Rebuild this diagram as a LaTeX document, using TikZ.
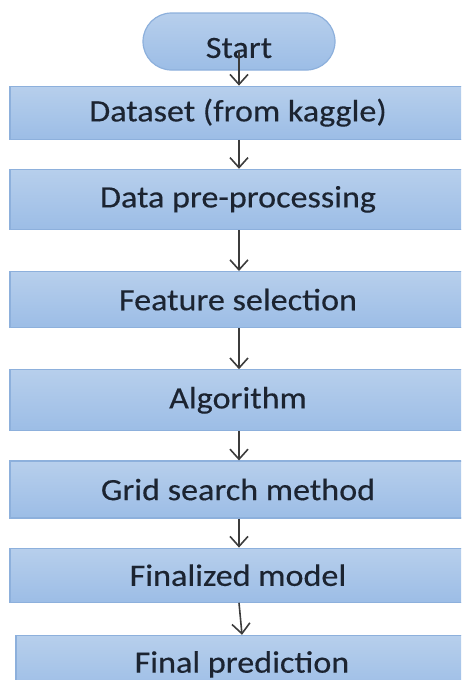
\documentclass[tikz,border=0pt]{standalone}
\usepackage{fontspec}
\setmainfont[FakeStretch=1.1,FakeBold=0.3]{Carlito}
\usepackage{tikz}
\usetikzlibrary{positioning,arrows.meta,shapes.misc}
\definecolor{boxtop}{HTML}{B7CFEC}
\definecolor{boxbot}{HTML}{9CBDE6}
\definecolor{boxline}{HTML}{8DB0DC}
\definecolor{ink}{HTML}{1C2431}
\definecolor{arrowgray}{HTML}{3C3C3C}

\begin{document}
\begin{tikzpicture}[font=\fontsize{15.5}{18}\selectfont,
  stepbox/.style={rectangle,draw=boxline,line width=0.6pt,top color=boxtop,bottom color=boxbot,text=ink,minimum width=240pt,inner sep=0pt,xshift=5.5pt,execute at begin node={\hspace*{-12pt}}},
  pill/.style={rounded rectangle,draw=boxline,line width=0.6pt,top color=boxtop,bottom color=boxbot,text=ink,minimum width=96pt,minimum height=28.5pt,inner sep=0pt},
  flow/.style={-{Straight Barb[length=5pt,width=9pt]},draw=arrowgray,line width=0.8pt}]
  \useasboundingbox (0,0) rectangle (230.5pt,-340pt);
  \clip (0,0) rectangle (230.5pt,-340pt);
  \node[pill] (start) at (119.5pt,-20.75pt) {\raisebox{-3.25pt}[\height][\depth]{Start}};
  \node[stepbox,minimum height=26.5pt,below=7.5pt of start] (data) {Dataset (from kaggle)};
  \node[stepbox,minimum height=30pt,below=14.5pt of data.south -| start] (prep) {Data pre-processing};
  \node[stepbox,minimum height=28pt,below=20.5pt of prep.south -| start] (feat) {Feature selection};
  \node[stepbox,minimum height=30.5pt,below=20.5pt of feat.south -| start] (algo) {Algorithm};
  \node[stepbox,minimum height=28.5pt,below=14.5pt of algo.south -| start] (grid) {Grid search method};
  \node[stepbox,minimum height=27pt,below=14.5pt of grid.south -| start] (model) {Finalized model};
  \node[stepbox,minimum height=29pt,below=16pt of model.south -| start,xshift=3pt,execute at begin node={\hspace*{-2pt}}] (pred) {Final prediction};
  \draw[flow] ([yshift=-4.5pt]start.center) -- (data.north -| start);
  \draw[flow] (data.south -| start) -- (prep.north -| start);
  \draw[flow] (prep.south -| start) -- (feat.north -| start);
  \draw[flow] (feat.south -| start) -- (algo.north -| start);
  \draw[flow] (algo.south -| start) -- (grid.north -| start);
  \draw[flow] (grid.south -| start) -- (model.north -| start);
  \draw[flow] (model.south -| start) -- ([xshift=1.5pt]pred.north -| start);
\end{tikzpicture}
\end{document}
